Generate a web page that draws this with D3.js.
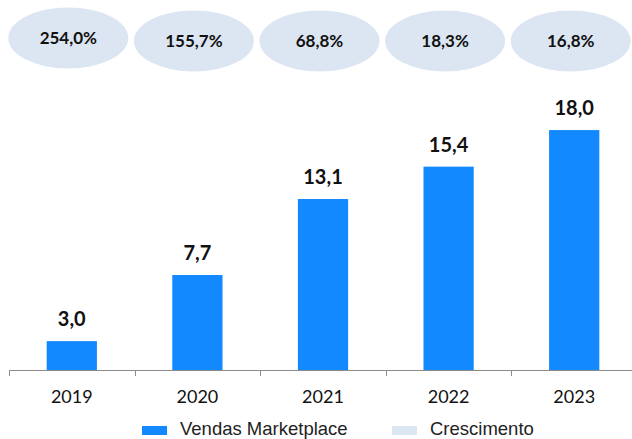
<!DOCTYPE html>
<html>
<head>
<meta charset="utf-8">
<script src="https://cdn.jsdelivr.net/npm/d3@7"></script>
<style>
  html, body { margin: 0; padding: 0; background: #fff; }
  svg { display: block; }
</style>
</head>
<body>
<svg id="chart" width="632" height="439"></svg>
<script>
// Vendas Marketplace por ano (bilhões) e crescimento anual
const years = ["2019", "2020", "2021", "2022", "2023"];
const vendas = [3.0, 7.7, 13.1, 15.4, 18.0];
const crescimento = [254.0, 155.7, 68.8, 18.3, 16.8];
const legendLabels = ["Vendas Marketplace", "Crescimento"];

const barColor = "#1289ff";
const bubbleColor = "#dce6f2";
const fmt1 = v => v.toFixed(1).replace(".", ",");

const svg = d3.select("#chart");

const baseY = 370;
const x = d3.scaleBand().domain(years).range([9, 637]).paddingInner(0.6).paddingOuter(0.3);
const xCat = d3.scaleBand().domain(years).range([9, 637]).padding(0);
const y = d3.scaleLinear().domain([0.95, 19]).range([baseY, 116]);

// bars
svg.append("g").selectAll("rect")
  .data(vendas)
  .join("rect")
  .attr("x", (d, i) => x(years[i]))
  .attr("y", d => y(d))
  .attr("width", x.bandwidth())
  .attr("height", d => baseY - y(d))
  .attr("fill", barColor);

// value labels
svg.append("g").selectAll("text")
  .data(vendas)
  .join("text")
  .attr("x", (d, i) => x(years[i]) + x.bandwidth() / 2)
  .attr("y", d => y(d) - 15)
  .attr("text-anchor", "middle")
  .attr("font-family", "Lato, sans-serif")
  .attr("font-weight", 700)
  .attr("font-size", 20)
  .attr("fill", "#111")
  .text(d => fmt1(d));

// x axis: baseline with ticks at category boundaries
const axis = svg.append("g").attr("stroke", "#8c8c8c").attr("stroke-width", 1);
axis.append("line")
  .attr("x1", xCat.range()[0]).attr("x2", 632)
  .attr("y1", baseY + 0.5).attr("y2", baseY + 0.5);
axis.selectAll("line.tick")
  .data(years)
  .join("line")
  .attr("class", "tick")
  .attr("x1", d => Math.round(xCat(d)) + 0.5)
  .attr("x2", d => Math.round(xCat(d)) + 0.5)
  .attr("y1", baseY).attr("y2", baseY + 6);

svg.append("g").selectAll("text")
  .data(years)
  .join("text")
  .attr("x", d => x(d) + x.bandwidth() / 2)
  .attr("y", 403)
  .attr("text-anchor", "middle")
  .attr("font-family", "Lato, sans-serif")
  .attr("font-size", 18)
  .attr("fill", "#111")
  .text(d => d);

// growth bubbles
const bubbles = svg.append("g").selectAll("g")
  .data(crescimento)
  .join("g")
  .attr("transform", (d, i) => `translate(${x(years[i]) + x.bandwidth() / 2 - 3.5},${i === 0 ? 38 : 41})`);
bubbles.append("ellipse")
  .attr("rx", 60).attr("ry", 30.5)
  .attr("fill", bubbleColor);
bubbles.append("text")
  .attr("y", 6)
  .attr("text-anchor", "middle")
  .attr("font-family", "Lato, sans-serif")
  .attr("font-weight", 700)
  .attr("font-size", 17)
  .attr("fill", "#111")
  .text(d => fmt1(d) + "%");

// legend
const legend = svg.append("g");
const legendItems = [
  { label: legendLabels[0], color: barColor, x: 142 },
  { label: legendLabels[1], color: bubbleColor, x: 392 }
];
const li = legend.selectAll("g").data(legendItems).join("g")
  .attr("transform", d => `translate(${d.x},426)`);
li.append("rect").attr("width", 25).attr("height", 9).attr("fill", d => d.color);
li.append("text")
  .attr("x", 38).attr("y", 9)
  .attr("font-family", "'Liberation Sans', Arial, sans-serif")
  .attr("font-size", 18.5)
  .attr("fill", "#222")
  .text(d => d.label);
</script>
</body>
</html>
